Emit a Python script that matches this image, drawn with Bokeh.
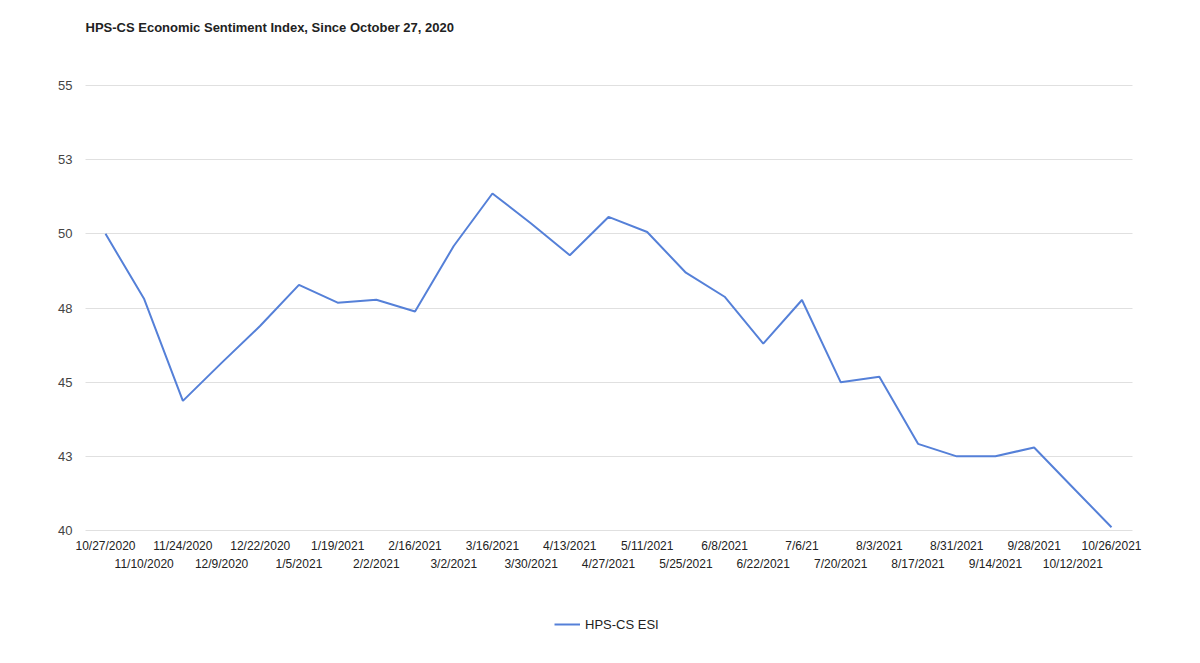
from bokeh.plotting import figure
from bokeh.models import (LinearAxis, FixedTicker, Range1d, Legend, LegendItem, Title)
from bokeh.embed import file_html
from bokeh.resources import INLINE

dates = ["10/27/2020", "11/10/2020", "11/24/2020", "12/9/2020", "12/22/2020",
         "1/5/2021", "1/19/2021", "2/2/2021", "2/16/2021", "3/2/2021",
         "3/16/2021", "3/30/2021", "4/13/2021", "4/27/2021", "5/11/2021",
         "5/25/2021", "6/8/2021", "6/22/2021", "7/6/21", "7/20/2021",
         "8/3/2021", "8/17/2021", "8/31/2021", "9/14/2021", "9/28/2021",
         "10/12/2021", "10/26/2021"]
esi = [50.0, 47.8, 44.37, 45.65, 46.9, 48.28, 47.68, 47.78, 47.38, 49.59,
       51.36, 50.35, 49.28, 50.57, 50.06, 48.69, 47.88, 46.3, 47.77, 45.0,
       45.18, 42.92, 42.5, 42.5, 42.8, 41.45, 40.11]
y_ticks = [40, 42.5, 45, 47.5, 50, 52.5, 55]
y_tick_labels = ["40", "43", "45", "48", "50", "53", "55"]
series_name = "HPS-CS ESI"
title_text = "HPS-CS Economic Sentiment Index, Since October 27, 2020"

FONT = "Liberation Sans"
x = list(range(len(dates)))

# layout (pixels)
W, H = 1200, 660
GRID_LEFT, GRID_RIGHT = 85, 1132       # gridded area horizontally
FIRST_PX, LAST_PX = 105, 1111          # first/last category centres
GRID_TOP, GRID_BOTTOM = 85, 530        # gridded area vertically (55..40)
FRAME_LEFT, FRAME_RIGHT = 40, 1180
FRAME_TOP, FRAME_BOTTOM = 52, 655

n = len(dates)
ppx = (LAST_PX - FIRST_PX) / (n - 1)
x_start = 0 - (FIRST_PX - FRAME_LEFT) / ppx
x_end = (n - 1) + (FRAME_RIGHT - LAST_PX) / ppx
gx0 = 0 - (FIRST_PX - GRID_LEFT) / ppx
gx1 = (n - 1) + (GRID_RIGHT - LAST_PX) / ppx

y_lo, y_hi = min(y_ticks), max(y_ticks)
ppu = (GRID_BOTTOM - GRID_TOP) / (y_hi - y_lo)
y_start = y_lo - (FRAME_BOTTOM - GRID_BOTTOM) / ppu
y_end = y_hi + (GRID_TOP - FRAME_TOP) / ppu

p = figure(width=W, height=H, output_backend="svg", toolbar_location=None,
           x_range=Range1d(x_start, x_end), y_range=Range1d(y_start, y_end),
           x_axis_location=None, y_axis_location=None,
           min_border_left=FRAME_LEFT, min_border_top=0,
           min_border_right=W - FRAME_RIGHT, min_border_bottom=H - FRAME_BOTTOM)
p.outline_line_color = None
p.background_fill_color = "white"
p.border_fill_color = "white"

t = Title(text=title_text, text_font=FONT, text_font_size="13px",
          text_font_style="bold", text_color="#222222", align="left",
          standoff=35, offset=GRID_LEFT - FRAME_LEFT)
p.add_layout(t, "above")

# y axis pinned at the grid's left edge
ya = LinearAxis(ticker=FixedTicker(ticks=y_ticks),
                major_label_overrides={t_: l for t_, l in zip(y_ticks, y_tick_labels)},
                fixed_location=gx0)
ya.axis_line_color = None
ya.major_tick_line_color = None
ya.minor_tick_line_color = None
ya.major_tick_out = 0
ya.major_tick_in = 0
ya.major_label_text_font = FONT
ya.major_label_text_font_size = "13px"
ya.major_label_text_color = "#444444"
ya.major_label_standoff = 13
p.add_layout(ya, "left")

p.ygrid.ticker = FixedTicker(ticks=y_ticks)
p.ygrid.grid_line_color = "#e0e0e0"
p.ygrid.cross_bounds = (gx0, gx1)
p.xgrid.grid_line_color = None

# x axes: two staggered rows, pinned to the 40 baseline
even = [i for i in x if i % 2 == 0]
odd = [i for i in x if i % 2 == 1]
for ticks, standoff in ((even, 8), (odd, 26)):
    ax = LinearAxis(ticker=FixedTicker(ticks=ticks),
                    major_label_overrides={i: dates[i] for i in ticks},
                    fixed_location=y_lo)
    ax.axis_line_color = None
    ax.major_tick_line_color = None
    ax.minor_tick_line_color = None
    ax.major_tick_out = 0
    ax.major_tick_in = 0
    ax.major_label_text_font = FONT
    ax.major_label_text_font_size = "12px"
    ax.major_label_text_color = "#222222"
    ax.major_label_standoff = standoff
    p.add_layout(ax, "below")

r = p.line(x, esi, line_color="#5580d8", line_width=2)

legend = Legend(items=[LegendItem(label=series_name, renderers=[r])],
                location=(555 - 1 - FRAME_LEFT, 21), orientation="horizontal",
                border_line_color=None, background_fill_alpha=0,
                label_text_font=FONT, label_text_font_size="13px",
                label_text_color="#222222", glyph_width=26)
p.add_layout(legend, "center")

open("out.html", "w").write(file_html(p, INLINE))
